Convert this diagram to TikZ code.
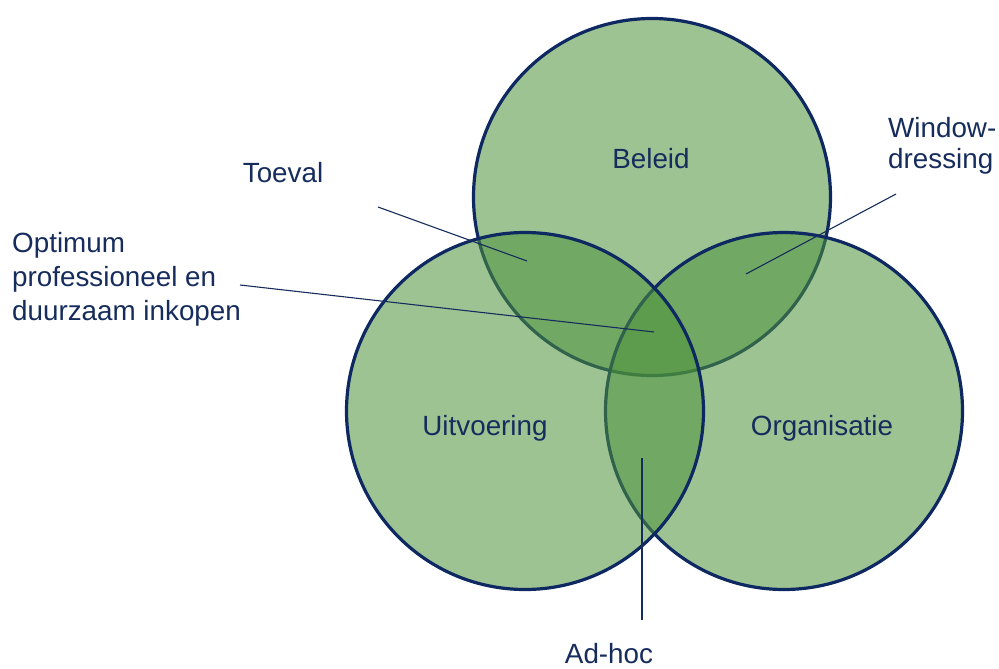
\documentclass[tikz,border=0pt]{standalone}
\usepackage{fontspec}
\setmainfont{Liberation Sans}
\definecolor{ringc}{RGB}{14,40,98}
\definecolor{leaf}{RGB}{77,146,59}
\definecolor{ink}{RGB}{22,44,92}
\begin{document}
\begin{tikzpicture}[x=1pt,y=-1pt,
  setc/.style={circle, draw=ringc, line width=3.2pt, fill=leaf, fill opacity=0.55,
    draw opacity=1, minimum size=357pt, inner sep=0pt, outer sep=0pt},
  lbl/.style={text=ink, font=\fontsize{27.8}{31}\selectfont, inner sep=0pt, anchor=base},
  lead/.style={draw=ink, line width=1.1pt}]
\useasboundingbox (0,0) rectangle (999,669);
% circles
\node[setc] (beleid) at (652,197) {};
\node[setc] (organisatie) at (784,411) {};
\node[setc] (uitvoering) at (525,411) {};
% circle labels
\node[lbl] (tbeleid) at (651,168) {Beleid};
\node[lbl] (tuitv) at (485,435) {Uitvoering};
\node[lbl] (torg) at (822,435) {Organisatie};
% outer labels
\node[lbl] (toeval) at (283,182) {Toeval};
\node[lbl, anchor=base west, align=left, font=\fontsize{27.8}{34}\selectfont] (optimum) at (12,320)
  {Optimum\\professioneel en\\duurzaam inkopen};
\node[lbl, anchor=base west, align=left] (window) at (888,168) {Window-\\dressing};
\node[lbl] (adhoc) at (609,663) {Ad-hoc};
% leader lines
\coordinate (t1) at (378,207);
\coordinate (t2) at (527,261);
\coordinate (o1) at (240,285);
\coordinate (o2) at (654,332);
\coordinate (w1) at (896,194);
\coordinate (w2) at (746,274);
\coordinate (a1) at (642,458);
\coordinate (a2) at (642,620);
\draw[lead] (t1) -- (t2);
\draw[lead] (o1) -- (o2);
\draw[lead] (w1) -- (w2);
\draw[lead] (a1) -- (a2);
\end{tikzpicture}
\end{document}
